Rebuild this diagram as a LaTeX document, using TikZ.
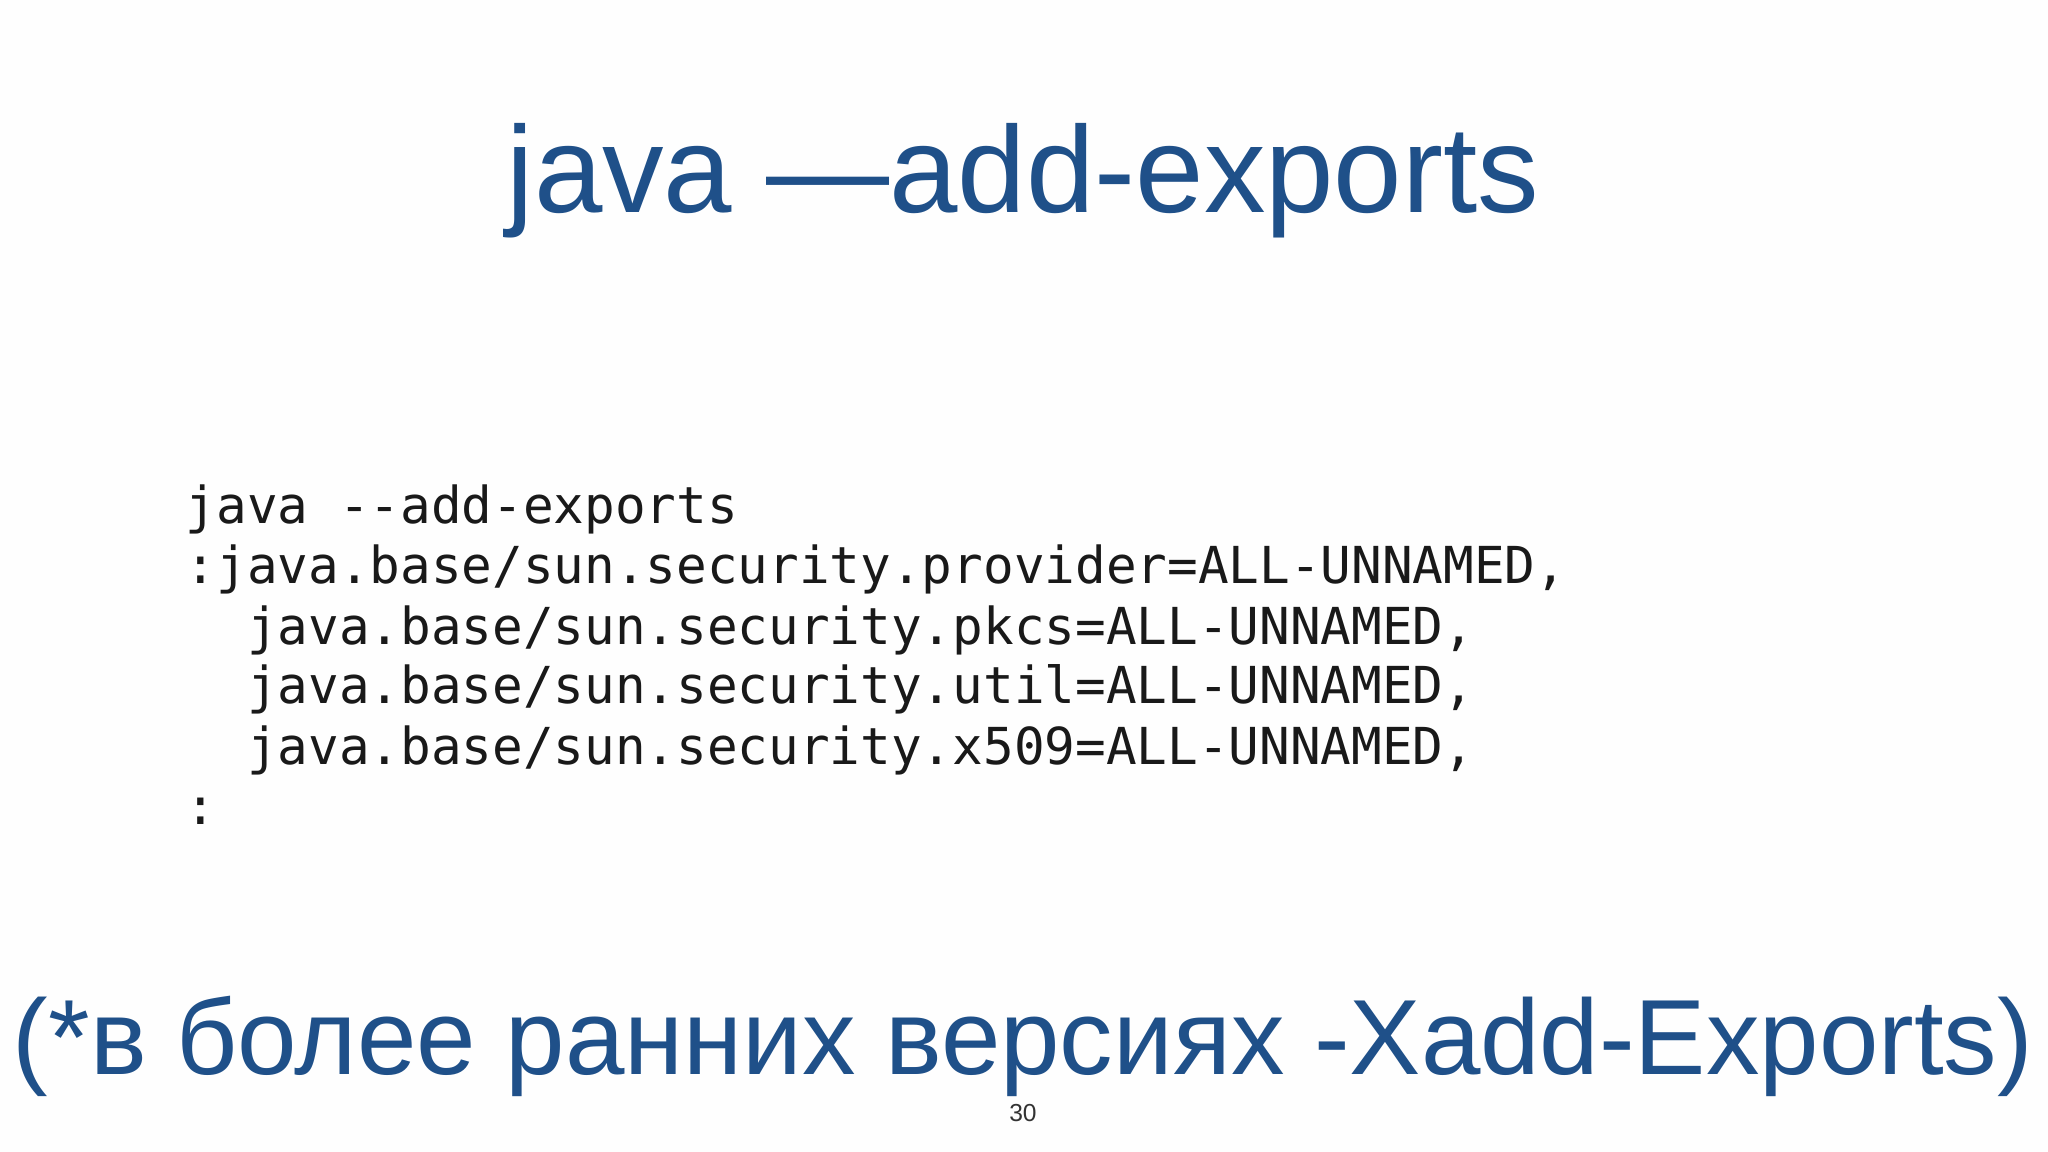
\documentclass[tikz,border=0pt]{standalone}
\usepackage{fontspec}
\setmainfont{Liberation Sans}
\setmonofont{DejaVu Sans Mono}
\definecolor{slideblue}{HTML}{1F5089}
\tikzset{
  title/.style={text=slideblue,font=\fontsize{35}{40}\selectfont,inner sep=0pt},
  codeline/.style={anchor=base west,inner sep=0pt,font=\ttfamily\fontsize{14.5}{17}\selectfont,text=black!90}
}
\begin{document}
\begin{tikzpicture}[x=1cm,y=-1cm]
\fill[white!99!gray] (0,0) rectangle (20.48,11.52);
\useasboundingbox (0,0) rectangle (20.48,11.52);
\node[title,anchor=base] (t) at (10.23,2.13) {java —add-exports};
\node[codeline] (c1) at (1.85,5.24) {java --add-exports};
\node[codeline] (c2) at (1.85,5.84) {:java.base/sun.security.provider=ALL-UNNAMED,};
\node[codeline] (c3) at (1.85,6.44) {\ \ java.base/sun.security.pkcs=ALL-UNNAMED,};
\node[codeline] (c4) at (1.85,7.04) {\ \ java.base/sun.security.util=ALL-UNNAMED,};
\node[codeline] (c5) at (1.85,7.64) {\ \ java.base/sun.security.x509=ALL-UNNAMED,};
\node[codeline] (c6) at (1.85,8.24) {:};
\node[title,anchor=base] (b) at (10.23,10.74) {\resizebox{20.2cm}{!}{(*в более ранних версиях -Xadd-Exports)}};
\node[anchor=base,inner sep=0pt,font=\fontsize{7}{8}\selectfont,text=black!80] (p) at (10.23,11.21) {30};
\end{tikzpicture}
\end{document}
